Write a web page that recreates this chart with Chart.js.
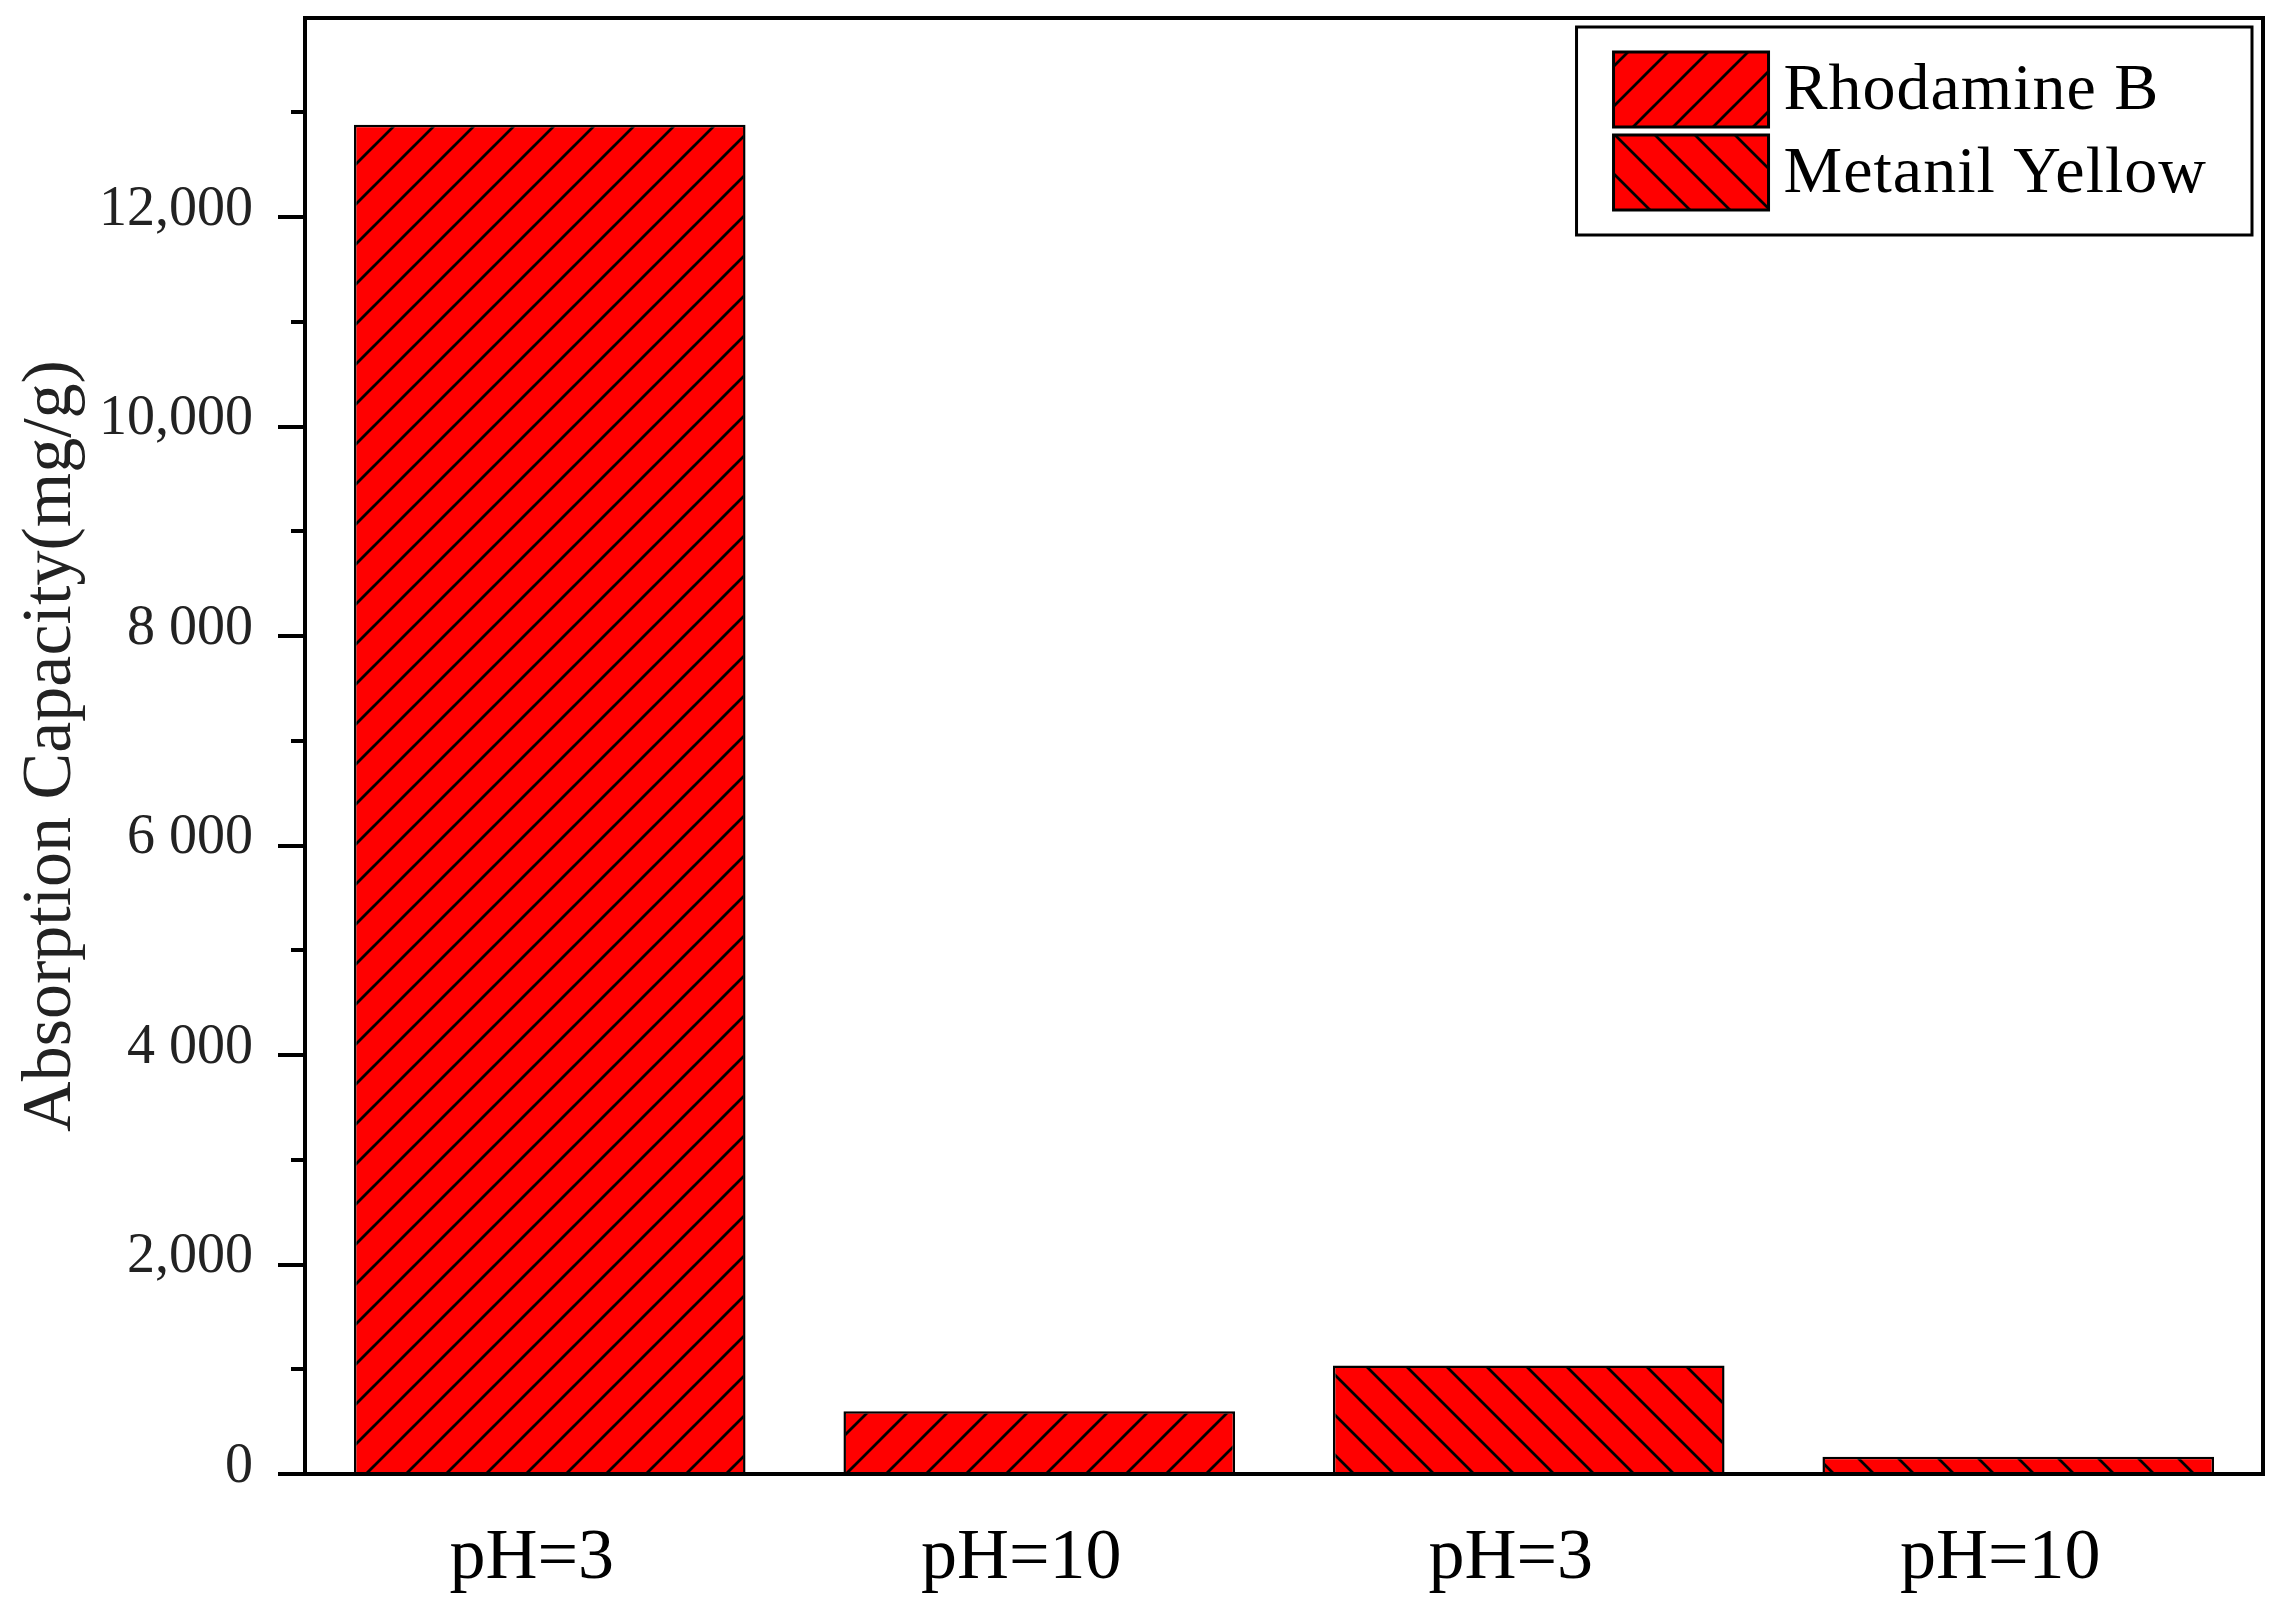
<!DOCTYPE html>
<html><head><meta charset="utf-8">
<script src="https://cdn.jsdelivr.net/npm/chart.js@4.4.1/dist/chart.umd.min.js"></script>
<style>html,body{margin:0;padding:0;background:#fff;overflow:hidden}canvas{display:block}</style>
</head><body>
<canvas id="c" width="2285" height="1604"></canvas>
<script>
// ---- data ----
const categories = ['pH=3', 'pH=10', 'pH=3', 'pH=10'];
const seriesNames = ['Rhodamine B', 'Metanil Yellow'];
const rhodamineB = [12880, 600, null, null];
const metanilYellow = [null, null, 1035, 165];
const yTickValues = [0, 2000, 4000, 6000, 8000, 10000, 12000];
const yTickLabels = ['0', '2,000', '4 000', '6 000', '8 000', '10,000', '12,000'];
const yMinorTickValues = [1000, 3000, 5000, 7000, 9000, 11000, 13000];
const yAxisTitle = 'Absorption Capacity(mg/g)';
const yMin = 0, yMax = 13900;

const FONT = '"Liberation Serif", "Times New Roman", serif';

function hatch(dir) {
  const s = 40, c = document.createElement('canvas');
  c.width = s; c.height = s;
  const g = c.getContext('2d');
  g.fillStyle = '#ff0000'; g.fillRect(0, 0, s, s);
  g.strokeStyle = '#000'; g.lineWidth = 2.8;
  g.beginPath();
  if (dir === '/') {
    for (const o of [0, s, 2 * s]) { g.moveTo(o + 10, -10); g.lineTo(-10, o + 10); }
  } else {
    for (const o of [-s, 0, s]) { g.moveTo(-10, -10 + o); g.lineTo(s + 10, s + 10 + o); }
  }
  g.stroke();
  return g.createPattern(c, 'repeat');
}
const ctx0 = document.getElementById('c').getContext('2d');
const patR = hatch('/');
const patM = hatch('\\');

const frameTicks = {
  id: 'frameTicks',
  afterDatasetsDraw(chart) {
    const { ctx, chartArea: a, scales: { y } } = chart;
    ctx.save();
    ctx.strokeStyle = '#000';
    ctx.lineWidth = 4;
    ctx.strokeRect(a.left, a.top, a.right - a.left, a.bottom - a.top);
    ctx.beginPath();
    y.ticks.forEach(t => {
      const py = Math.round(y.getPixelForValue(t.value));
      const len = yTickValues.includes(t.value) ? 27 : 14;
      ctx.moveTo(a.left - len, py); ctx.lineTo(a.left, py);
    });
    ctx.stroke();
    ctx.restore();
  }
};

const boxLegend = {
  id: 'boxLegend',
  afterDraw(chart) {
    const { ctx, chartArea: a } = chart;
    const ds = chart.data.datasets;
    ctx.save();
    ctx.font = '66px ' + FONT;
    try { ctx.letterSpacing = '1px'; } catch (e) {}
    const tw = Math.max(...ds.map(d => ctx.measureText(d.label).width));
    const sw = 155, sh = 75, gap = 8, padL = 37, padT = 25, textGap = 15, padR = 45;
    const w = padL + sw + textGap + tw + padR;
    const h = padT * 2 + ds.length * sh + (ds.length - 1) * gap;
    const right = a.right - 11, left = right - w, top = a.top + 9;
    ctx.fillStyle = '#fff'; ctx.fillRect(left, top, w, h);
    ctx.lineWidth = 3; ctx.strokeStyle = '#000';
    ctx.strokeRect(left, top, w, h);
    ds.forEach((d, i) => {
      const x = left + padL, yy = top + padT + i * (sh + gap);
      ctx.fillStyle = d.backgroundColor; ctx.fillRect(x, yy, sw, sh);
      ctx.lineWidth = 3; ctx.strokeRect(x, yy, sw, sh);
      ctx.fillStyle = '#000'; ctx.textBaseline = 'alphabetic'; ctx.textAlign = 'left';
      ctx.fillText(d.label, x + sw + textGap, yy + sh / 2 + 19);
    });
    ctx.restore();
  }
};

new Chart(ctx0, {
  type: 'bar',
  data: {
    labels: categories,
    datasets: [
      { label: seriesNames[0], data: rhodamineB, backgroundColor: patR },
      { label: seriesNames[1], data: metanilYellow, backgroundColor: patM }
    ]
  },
  options: {
    responsive: false, animation: false, devicePixelRatio: 1,
    layout: { padding: { top: 18, right: 22, left: 0, bottom: 0 } },
    datasets: { bar: { skipNull: true, categoryPercentage: 1, barPercentage: 0.8, borderColor: '#000', borderWidth: 2.5, borderSkipped: 'start' } },
    plugins: { legend: { display: false }, tooltip: { enabled: false } },
    scales: {
      x: {
        afterFit(s) { s.height = 130; s.paddingLeft = 0; s.paddingRight = 0; },
        grid: { display: false, drawTicks: false }, border: { display: false },
        ticks: { padding: 42, labelOffset: -18, color: '#000', font: { family: FONT, size: 72 }, autoSkip: false, maxRotation: 0 }
      },
      y: {
        min: yMin, max: yMax, bounds: 'data',
        afterBuildTicks(s) {
          s.min = yMin; s.max = yMax;
          s.ticks = yTickValues.concat(yMinorTickValues).sort((p, q) => p - q).map(v => ({ value: v }));
        },
        afterFit(s) { s.width = 305; s.paddingTop = 0; s.paddingBottom = 0; },
        afterTickToLabelConversion(s) {
          s.ticks.forEach(t => { const i = yTickValues.indexOf(t.value); t.label = i >= 0 ? yTickLabels[i] : ''; });
        },
        grid: { display: false, drawTicks: false }, border: { display: false },
        ticks: {
          autoSkip: false, padding: 52, labelOffset: -7,
          color: '#222', font: { family: FONT, size: 56 }
        },
        title: { display: true, text: yAxisTitle, color: '#222', font: { family: FONT, size: 70 }, padding: { top: 10, bottom: 0 } }
      }
    }
  },
  plugins: [frameTicks, boxLegend]
});
</script>
</body></html>
